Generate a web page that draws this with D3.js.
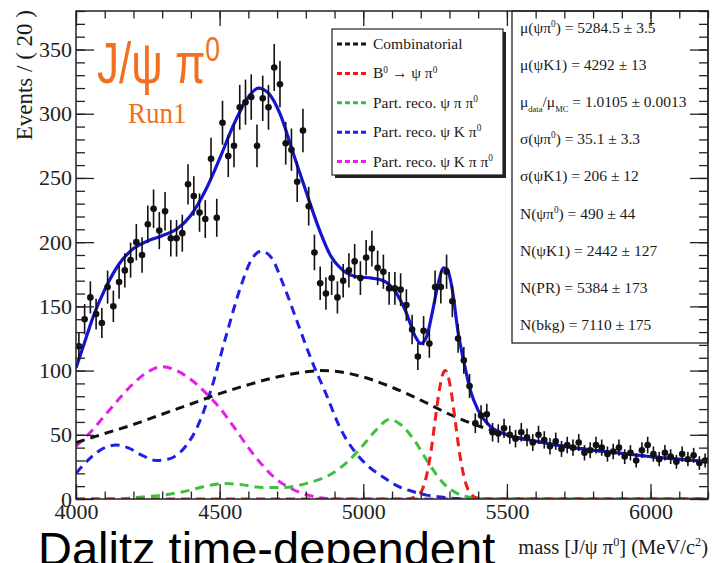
<!DOCTYPE html>
<html>
<head>
<meta charset="utf-8">
<script src="https://cdn.jsdelivr.net/npm/d3@7/dist/d3.min.js"></script>
<style>
  body { margin: 0; background: #fff; }
  svg { display: block; }
  .serif { font-family: "Liberation Serif", "Times New Roman", serif; fill: #1a1a1a; }
</style>
</head>
<body>
<svg id="chart" width="720" height="563"></svg>
<script>
// ---- binning of the J/psi pi0 mass spectrum ----
const massRange = [4000, 6200];
const binWidth = 20;
const eventRange = [0, 380];

// events per 20 MeV bin, first bin centred at 4010
const counts = [
  119, 140, 157, 144, 137, 165, 150, 169,            // 4010-4150
  178, 186, 200, 190, 214,                           // 4170-4250
  226, 209, 224, 203, 203, 207, 245, 236, 223, 218,  // 4270-4450
  265, 219, 293, 267, 275, 305, 309, 313, 275, 312,  // 4470-4650
  305, 336, 323, 277, 272, 247, 287, 228, 192,       // 4670-4830
  168, 160, 172, 157, 170, 178, 185, 172, 188, 195, 180, // 4850-5050
  177, 164, 164, 163, 151, 132, 111, 131, 121, 165,  // 5070-5250
  165, 177, 154, 125, 108, 88,                       // 5270-5370
  59, 65, 66, 52, 51, 55, 50, 47, 52, 48,            // 5390-5570
  44, 50, 46, 41, 45, 39, 42, 40, 44, 36,            // 5590-5770
  38, 42, 40, 35, 37, 40, 33, 36, 30, 38,            // 5790-5970
  42, 35, 31, 36, 33, 29, 35, 31, 34, 28, 30         // 5990-6190
];

// fit components, [mass, events per bin]
const combinatorial = [
  [4000, 44], [4100, 51], [4200, 58], [4300, 66], [4400, 74], [4500, 82],
  [4600, 89], [4700, 95], [4800, 99], [4850, 100], [4900, 99.5], [5000, 95],
  [5100, 87], [5200, 77], [5300, 66], [5400, 57], [5500, 50], [5600, 45],
  [5700, 41], [5800, 38], [5900, 35.5], [6000, 33], [6100, 31], [6200, 29]
];
const signalB0 = [
  [4000, 0], [5150, 0], [5195, 3.7], [5215, 13.5], [5235, 36], [5250, 61],
  [5265, 85], [5275, 96], [5285, 100], [5295, 96], [5305, 85], [5320, 61],
  [5335, 36], [5355, 13.5], [5375, 3.7], [5400, 0.5], [5430, 0], [6200, 0]
];
const partRecoPiPi0 = [
  [4000, 0], [4150, 0], [4200, 1], [4300, 3], [4400, 7], [4450, 10],
  [4520, 12], [4580, 11], [4650, 9], [4720, 9], [4800, 12], [4900, 21],
  [4950, 30], [5000, 42], [5050, 55], [5090, 62], [5130, 58], [5180, 45],
  [5230, 27], [5280, 12], [5330, 4], [5380, 1], [5420, 0], [6200, 0]
];
const partRecoKPi0 = [
  [4000, 20], [4050, 32], [4100, 40], [4140, 42], [4180, 40], [4230, 34],
  [4280, 30], [4320, 31], [4370, 38], [4420, 55], [4470, 85], [4520, 125],
  [4570, 163], [4610, 186], [4645, 193], [4680, 188], [4720, 168], [4770, 138],
  [4820, 108], [4870, 82], [4920, 55], [4970, 37], [5020, 25], [5070, 17],
  [5120, 10], [5170, 6], [5220, 3], [5270, 1.5], [5330, 0.3], [5400, 0], [6200, 0]
];
const partRecoKPiPi0 = [
  [4000, 41], [4050, 52], [4100, 65], [4150, 78], [4200, 90], [4250, 99],
  [4300, 103], [4350, 100], [4400, 93], [4450, 83], [4500, 71], [4550, 56],
  [4600, 40], [4650, 26], [4700, 15], [4750, 8], [4800, 3.5], [4850, 1],
  [4900, 0], [6200, 0]
];
const totalFit = [
  [4000, 102], [4030, 122], [4060, 142], [4100, 163], [4150, 183], [4200, 195],
  [4250, 201], [4300, 205], [4350, 210], [4400, 221], [4450, 240], [4500, 265],
  [4550, 292], [4600, 313], [4635, 320], [4670, 316], [4710, 300], [4755, 270],
  [4800, 240], [4850, 208], [4885, 190], [4930, 178], [4980, 173], [5030, 172],
  [5070, 170], [5110, 162], [5150, 145], [5180, 127], [5200, 121], [5220, 126],
  [5240, 145], [5260, 167], [5280, 180], [5292, 179], [5310, 163], [5330, 130],
  [5350, 107], [5375, 83], [5400, 69], [5440, 57], [5500, 50], [5600, 45],
  [5700, 41], [5800, 38], [5900, 35.5], [6000, 33], [6100, 31], [6200, 29]
];

// axis ticks
const xMajorTicks = [4000, 4500, 5000, 5500, 6000];
const xMinorTicks = d3.range(4000, 6201, 100);
const yMajorTicks = [0, 50, 100, 150, 200, 250, 300, 350];
const yMinorTicks = d3.range(0, 381, 10);

// legend entries and fit results
const legendLabels = [
  [{ t: "Combinatorial" }],
  [{ t: "B" }, { t: "0", sup: true }, { t: " \u2192 \u03C8 \u03C0" }, { t: "0", sup: true }],
  [{ t: "Part. reco. \u03C8 \u03C0 \u03C0" }, { t: "0", sup: true }],
  [{ t: "Part. reco. \u03C8 K \u03C0" }, { t: "0", sup: true }],
  [{ t: "Part. reco. \u03C8 K \u03C0 \u03C0" }, { t: "0", sup: true }]
];
const legendColors = ["#111111", "#ee1c1c", "#3fbf3f", "#1f1fe6", "#e61fe6"];
const fitResults = [
  [{ t: "\u03BC(\u03C8\u03C0" }, { t: "0", sup: true }, { t: ") =  5284.5 \u00B1 3.5" }],
  [{ t: "\u03BC(\u03C8K1) =  4292 \u00B1 13" }],
  [{ t: "\u03BC" }, { t: "data", sub: true }, { t: "/\u03BC" }, { t: "MC", sub: true }, { t: " =  1.0105 \u00B1 0.0013" }],
  [{ t: "\u03C3(\u03C8\u03C0" }, { t: "0", sup: true }, { t: ") =  35.1 \u00B1 3.3" }],
  [{ t: "\u03C3(\u03C8K1) =  206 \u00B1 12" }],
  [{ t: "N(\u03C8\u03C0" }, { t: "0", sup: true }, { t: ") =  490 \u00B1 44" }],
  [{ t: "N(\u03C8K1) =  2442 \u00B1 127" }],
  [{ t: "N(PR) =  5384 \u00B1 173" }],
  [{ t: "N(bkg) =  7110 \u00B1 175" }]
];

// ---- drawing ----
const svg = d3.select("#chart");
const frame = { left: 76, right: 708, top: 11, bottom: 499 };

const x = d3.scaleLinear().domain(massRange).range([frame.left, frame.right]);
const y = d3.scaleLinear().domain(eventRange).range([frame.bottom, frame.top]);

svg.append("rect").attr("width", 720).attr("height", 563).attr("fill", "#fff");

svg.append("clipPath").attr("id", "plotClip")
  .append("rect")
  .attr("x", frame.left).attr("y", frame.top)
  .attr("width", frame.right - frame.left).attr("height", frame.bottom - frame.top);

const plot = svg.append("g").attr("clip-path", "url(#plotClip)");

const line = d3.line()
  .x(d => x(d[0]))
  .y(d => y(d[1]))
  .curve(d3.curveMonotoneX);

const components = [combinatorial, signalB0, partRecoPiPi0, partRecoKPi0, partRecoKPiPi0];
// draw from back to front
[4, 3, 2, 0, 1].forEach(i => {
  plot.append("path")
    .datum(components[i])
    .attr("d", line)
    .attr("fill", "none")
    .attr("stroke", legendColors[i])
    .attr("stroke-width", 3)
    .attr("stroke-dasharray", "9,6");
});

plot.append("path")
  .datum(totalFit)
  .attr("d", line)
  .attr("fill", "none")
  .attr("stroke", "#1515d0")
  .attr("stroke-width", 3.2);

// data points with Poisson errors
const binCentres = counts.map((_, i) => massRange[0] + binWidth * (i + 0.5));
const pts = plot.append("g").selectAll("g")
  .data(counts.map((c, i) => ({ m: binCentres[i], n: c })))
  .join("g");
pts.append("line")
  .attr("x1", d => x(d.m)).attr("x2", d => x(d.m))
  .attr("y1", d => y(d.n - Math.sqrt(d.n))).attr("y2", d => y(d.n + Math.sqrt(d.n)))
  .attr("stroke", "#111").attr("stroke-width", 1.6);
pts.append("line")
  .attr("x1", d => x(d.m - binWidth / 2)).attr("x2", d => x(d.m + binWidth / 2))
  .attr("y1", d => y(d.n)).attr("y2", d => y(d.n))
  .attr("stroke", "#111").attr("stroke-width", 1.2);
pts.append("circle")
  .attr("cx", d => x(d.m)).attr("cy", d => y(d.n))
  .attr("r", 3.3).attr("fill", "#111");

// helper for text with super/subscripts
function richText(sel, parts, size) {
  parts.forEach(p => {
    const ts = sel.append("tspan").text(p.t);
    if (p.sup) ts.attr("font-size", size * 0.6).attr("dy", -size * 0.38);
    else if (p.sub) ts.attr("font-size", size * 0.55).attr("dy", size * 0.3);
    else ts.attr("font-size", size);
    if (p.sup || p.sub) {
      ts.each(function () { this.__shift = p.sup ? size * 0.38 : -size * 0.3; });
    }
  });
  // return to the baseline after each shifted part
  sel.selectAll("tspan").each(function (d, i, nodes) {
    if (i > 0 && nodes[i - 1].__shift) {
      const prev = +d3.select(this).attr("dy") || 0;
      d3.select(this).attr("dy", prev + nodes[i - 1].__shift);
    }
  });
}

// fit results box
const pave = svg.append("g");
pave.append("rect")
  .attr("x", 512).attr("y", frame.top)
  .attr("width", frame.right - 512).attr("height", 343 - frame.top)
  .attr("fill", "#fff").attr("stroke", "#222").attr("stroke-width", 1.3);
fitResults.forEach((row, i) => {
  const t = pave.append("text").attr("class", "serif")
    .attr("x", 520).attr("y", 33 + i * 37.1);
  richText(t, row, 15.5);
});

// legend
const leg = svg.append("g");
leg.append("rect").attr("x", 335).attr("y", 32).attr("width", 171).attr("height", 146).attr("fill", "#222");
leg.append("rect").attr("x", 332).attr("y", 29).attr("width", 171).attr("height", 146)
  .attr("fill", "#fff").attr("stroke", "#222").attr("stroke-width", 1.2);
legendLabels.forEach((row, i) => {
  const cy = 44 + i * 29.4;
  leg.append("line")
    .attr("x1", 337).attr("x2", 367).attr("y1", cy).attr("y2", cy)
    .attr("stroke", legendColors[i]).attr("stroke-width", 3)
    .attr("stroke-dasharray", "5,3");
  const t = leg.append("text").attr("class", "serif")
    .attr("x", 373).attr("y", cy + 5);
  richText(t, row, 15.5);
});

// axes with inward ticks on all four sides
function styleAxis(g) {
  g.select(".domain").remove();
  g.selectAll(".tick line").attr("stroke", "#222").attr("stroke-width", 1.3);
  g.selectAll(".tick text").attr("font-family", "Liberation Serif, serif").attr("fill", "#222").attr("font-size", 22);
}
svg.append("g").attr("transform", `translate(0,${frame.bottom})`)
  .call(d3.axisBottom(x).tickValues(xMinorTicks).tickSize(-7.5).tickFormat(""))
  .call(styleAxis);
svg.append("g").attr("transform", `translate(0,${frame.bottom})`)
  .call(d3.axisBottom(x).tickValues(xMajorTicks).tickSize(-15).tickPadding(4).tickFormat(d3.format("d")))
  .call(styleAxis);
svg.append("g").attr("transform", `translate(0,${frame.top})`)
  .call(d3.axisTop(x).tickValues(xMinorTicks).tickSize(-7.5).tickFormat(""))
  .call(styleAxis);
svg.append("g").attr("transform", `translate(0,${frame.top})`)
  .call(d3.axisTop(x).tickValues(xMajorTicks).tickSize(-15).tickFormat(""))
  .call(styleAxis);
svg.append("g").attr("transform", `translate(${frame.left},0)`)
  .call(d3.axisLeft(y).tickValues(yMinorTicks).tickSize(-9).tickFormat(""))
  .call(styleAxis);
svg.append("g").attr("transform", `translate(${frame.left},0)`)
  .call(d3.axisLeft(y).tickValues(yMajorTicks).tickSize(-18).tickPadding(4).tickFormat(d3.format("d")))
  .call(styleAxis);
svg.append("g").attr("transform", `translate(${frame.right},0)`)
  .call(d3.axisRight(y).tickValues(yMinorTicks).tickSize(-9).tickFormat(""))
  .call(styleAxis);
svg.append("g").attr("transform", `translate(${frame.right},0)`)
  .call(d3.axisRight(y).tickValues(yMajorTicks).tickSize(-18).tickFormat(""))
  .call(styleAxis);

svg.append("rect")
  .attr("x", frame.left).attr("y", frame.top)
  .attr("width", frame.right - frame.left).attr("height", frame.bottom - frame.top)
  .attr("fill", "none").attr("stroke", "#222").attr("stroke-width", 1.5);

// axis titles
svg.append("text").attr("class", "serif")
  .attr("transform", "translate(32,10) rotate(-90)")
  .attr("text-anchor", "end").attr("font-size", 23)
  .text("Events / ( 20 )");
const xTitle = svg.append("text").attr("class", "serif")
  .attr("x", frame.right).attr("y", 554).attr("text-anchor", "end");
richText(xTitle, [{ t: "mass [J/\u03C8 \u03C0" }, { t: "0", sup: true }, { t: "] (MeV/c" }, { t: "2", sup: true }, { t: ")" }], 20.5);

// channel label
const chan = svg.append("text")
  .attr("transform", "translate(97,83) scale(0.76,1)")
  .attr("font-family", "Liberation Sans, Arial, sans-serif")
  .attr("fill", "#f07020");
richText(chan, [{ t: "J/\u03C8 \u03C0" }, { t: "0", sup: true }], 58);
svg.append("text")
  .attr("transform", "translate(128,123) scale(0.9,1)")
  .attr("font-family", "Liberation Serif, serif")
  .attr("font-size", 30).attr("fill", "#f07020")
  .text("Run1");

// caption below the plot
svg.append("text")
  .attr("x", 38).attr("y", 565)
  .attr("font-family", "Liberation Sans, Arial, sans-serif")
  .attr("font-size", 47).attr("fill", "#000")
  .text("Dalitz time-dependent");
</script>
</body>
</html>
